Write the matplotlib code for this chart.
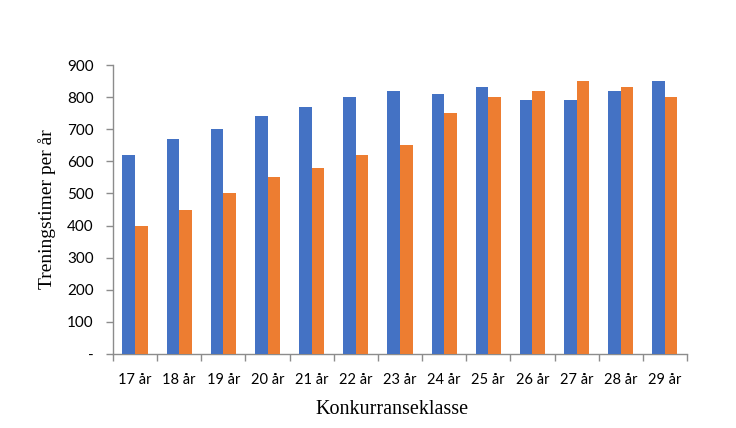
import matplotlib
matplotlib.use("Agg")
import matplotlib.pyplot as plt
import numpy as np
from matplotlib.ticker import FixedLocator, FuncFormatter

categories = ["17 år", "18 år", "19 år", "20 år", "21 år", "22 år", "23 år",
              "24 år", "25 år", "26 år", "27 år", "28 år", "29 år"]
series_blue = [620, 670, 700, 740, 770, 800, 820, 810, 830, 790, 790, 820, 850]
series_orange = [400, 450, 500, 550, 580, 620, 650, 750, 800, 820, 850, 830, 800]
y_ticks = [0, 100, 200, 300, 400, 500, 600, 700, 800, 900]

fig = plt.figure(figsize=(7.36, 4.28), dpi=100)
ax = fig.add_axes([0.1535, 0.1729, 0.9334 - 0.1535, 0.8481 - 0.1729])

x = np.arange(len(categories))
w = 0.285
ax.bar(x - w / 2, series_blue, width=w, color="#4472C4", zorder=3)
ax.bar(x + w / 2, series_orange, width=w, color="#ED7D31", zorder=3)

ax.set_xlim(-0.5, len(categories) - 0.5)
ax.set_ylim(0, 900)

ax.set_yticks(y_ticks)
ax.yaxis.set_major_formatter(FuncFormatter(lambda v, p: "-" if v == 0 else f"{int(v)}"))
for lbl in ax.get_yticklabels():
    lbl.set_fontfamily("Lato")
    lbl.set_fontsize(11)

ax.set_xticks(x)
ax.set_xticklabels(categories, fontfamily="Lato", fontsize=10.5)
ax.xaxis.set_minor_locator(FixedLocator(np.arange(-0.5, len(categories), 1.0)))
ax.tick_params(axis="x", which="major", length=0, pad=14)
ax.tick_params(axis="x", which="minor", length=5, color="#8c8c8c", width=1)
ax.tick_params(axis="y", which="major", length=5, color="#8c8c8c", width=1, pad=9)

for s in ["top", "right"]:
    ax.spines[s].set_visible(False)
for s in ["left", "bottom"]:
    ax.spines[s].set_color("#8c8c8c")
    ax.spines[s].set_linewidth(1)

ax.set_ylabel("Treningstimer per år", fontfamily="Liberation Serif", fontsize=14, labelpad=8)
ax.set_xlabel("Konkurranseklasse", fontfamily="Liberation Serif", fontsize=14.5)
ax.xaxis.set_label_coords(0.486, -0.158, transform=ax.transAxes)
ax.xaxis.label.set_verticalalignment("top")

fig.savefig("out.png", dpi=100)
